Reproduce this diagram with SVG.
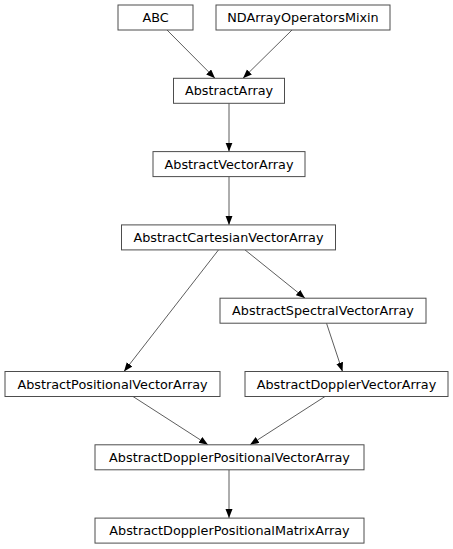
<svg xmlns="http://www.w3.org/2000/svg" width="453" height="549" viewBox="0 0 453 549">
<style>
.n rect{fill:#fff;stroke:#4d4d4d;stroke-width:1}
.n text{font-family:"DejaVu Sans","Liberation Sans",sans-serif;font-size:12.8px;fill:#000;text-anchor:middle}
.e line{stroke:#333;stroke-width:0.8;marker-end:url(#ah)}
</style>
<defs>
<marker id="ah" markerUnits="userSpaceOnUse" markerWidth="10" markerHeight="8" refX="9" refY="3.5" orient="auto">
<path d="M0,0 L9,3.5 L0,7 z" fill="#000"/>
</marker>
</defs>
<rect width="453" height="549" fill="#fff"/>
<g id="edges" class="e">
<line x1="167" y1="30" x2="215" y2="78.3"/>
<line x1="292" y1="30" x2="243" y2="78.3"/>
<line x1="229" y1="103.3" x2="229" y2="151.6"/>
<line x1="229" y1="176.6" x2="229" y2="224.9"/>
<line x1="218.5" y1="249.9" x2="124" y2="371.5"/>
<line x1="245" y1="249.9" x2="305" y2="298.2"/>
<line x1="326.5" y1="323.2" x2="342.5" y2="371.5"/>
<line x1="133" y1="396.5" x2="208" y2="444.8"/>
<line x1="325" y1="396.5" x2="250" y2="444.8"/>
<line x1="229" y1="469.8" x2="229" y2="518.1"/>
</g>
<g id="ABC" class="n"><rect x="118" y="5" width="75" height="25"/><text x="155.5" y="22">ABC</text></g>
<g id="NDArrayOperatorsMixin" class="n"><rect x="216" y="5" width="174" height="25"/><text x="303" y="22">NDArrayOperatorsMixin</text></g>
<g id="AbstractArray" class="n"><rect x="173.5" y="78.3" width="111" height="25"/><text x="229" y="95.3">AbstractArray</text></g>
<g id="AbstractVectorArray" class="n"><rect x="153" y="151.6" width="152" height="25"/><text x="229" y="168.6">AbstractVectorArray</text></g>
<g id="AbstractCartesianVectorArray" class="n"><rect x="121.5" y="224.9" width="214" height="25"/><text x="228.5" y="241.9">AbstractCartesianVectorArray</text></g>
<g id="AbstractSpectralVectorArray" class="n"><rect x="220" y="298.2" width="206" height="25"/><text x="323" y="315.2">AbstractSpectralVectorArray</text></g>
<g id="AbstractPositionalVectorArray" class="n"><rect x="5" y="371.5" width="215" height="25"/><text x="112.5" y="388.5">AbstractPositionalVectorArray</text></g>
<g id="AbstractDopplerVectorArray" class="n"><rect x="245" y="371.5" width="203" height="25"/><text x="346.5" y="388.5">AbstractDopplerVectorArray</text></g>
<g id="AbstractDopplerPositionalVectorArray" class="n"><rect x="95" y="444.8" width="269" height="25"/><text x="229.5" y="461.8">AbstractDopplerPositionalVectorArray</text></g>
<g id="AbstractDopplerPositionalMatrixArray" class="n"><rect x="95" y="518.1" width="269" height="25"/><text x="229.5" y="535.1">AbstractDopplerPositionalMatrixArray</text></g>
</svg>
